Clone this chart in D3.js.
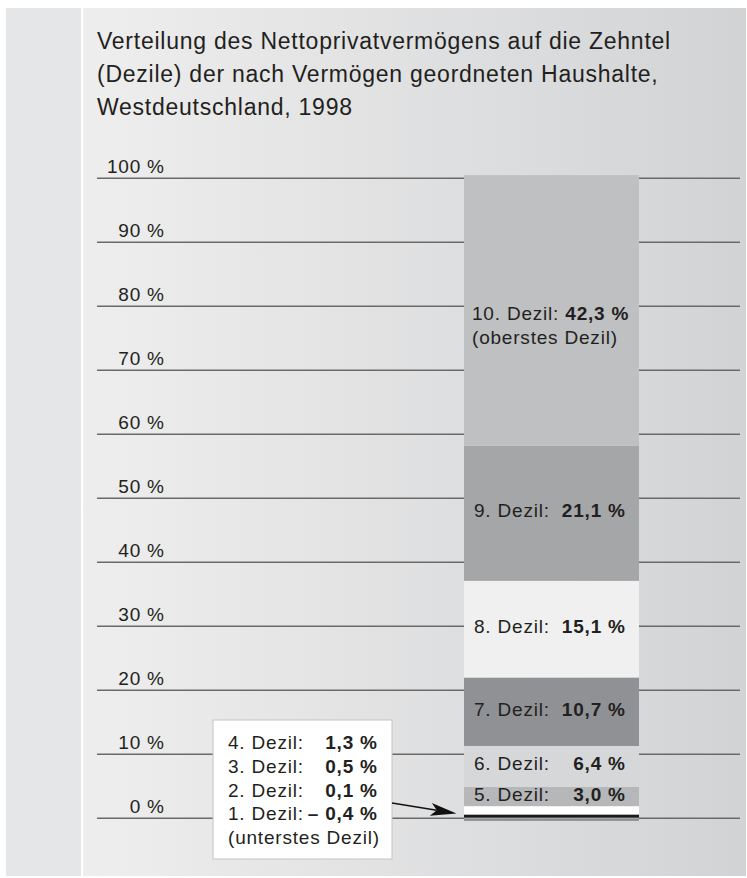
<!DOCTYPE html>
<html>
<head>
<meta charset="utf-8">
<script src="https://cdn.jsdelivr.net/npm/d3@7"></script>
<style>
  html, body { margin: 0; padding: 0; background: #ffffff; }
  svg { display: block; }
</style>
</head>
<body>
<svg id="chart" width="747" height="878"></svg>
<script>
// ---- DATA ----
const deciles = ["1. Dezil", "2. Dezil", "3. Dezil", "4. Dezil", "5. Dezil",
                 "6. Dezil", "7. Dezil", "8. Dezil", "9. Dezil", "10. Dezil"];
const shares = [-0.4, 0.1, 0.5, 1.3, 3.0, 6.4, 10.7, 15.1, 21.1, 42.3];
const valueLabels = ["– 0,4 %", "0,1 %", "0,5 %", "1,3 %", "3,0 %",
                     "6,4 %", "10,7 %", "15,1 %", "21,1 %", "42,3 %"];
const tickValues = [0, 10, 20, 30, 40, 50, 60, 70, 80, 90, 100];
const tickLabels = ["0 %", "10 %", "20 %", "30 %", "40 %", "50 %", "60 %", "70 %", "80 %", "90 %", "100 %"];
const titleLines = ["Verteilung des Nettoprivatvermögens auf die Zehntel",
                    "(Dezile) der nach Vermögen geordneten Haushalte,",
                    "Westdeutschland, 1998"];
const groups = ["Westdeutschland 1998"];

// ---- STYLE ----
const colors = ["#8b8d90", "#ffffff", "#1b1b1b", "#ffffff", "#b6b7b9",
                "#d6d7d9", "#8f9194", "#f0f0f0", "#a5a6a8", "#bfc0c2"];
const font = "'Liberation Sans', Arial, Helvetica, sans-serif";
const textColor = "#231f20";
const fs = 19, ls = 0.8;

const svg = d3.select("#chart");
const defs = svg.append("defs");
const grad = defs.append("linearGradient").attr("id", "bg").attr("x1", 0).attr("x2", 1).attr("y1", 0).attr("y2", 0);
grad.append("stop").attr("offset", "0%").attr("stop-color", "#eeeeee");
grad.append("stop").attr("offset", "100%").attr("stop-color", "#d2d3d5");

// background panels
svg.append("rect").attr("x", 6).attr("y", 8).attr("width", 75).attr("height", 868).attr("fill", "#e5e6e8");
svg.append("rect").attr("x", 83).attr("y", 8).attr("width", 663).attr("height", 868).attr("fill", "url(#bg)");

// scales
const y = d3.scaleLinear().domain([0, 100]).range([818.3, 178.3]);
const x = d3.scaleBand().domain(groups).range([464, 639]).padding(0);

// title
const title = svg.append("text").attr("font-family", font).attr("font-size", 23)
  .attr("letter-spacing", 0.75).attr("fill", textColor);
titleLines.forEach((t, i) => {
  title.append("tspan").attr("x", 97).attr("y", 49 + i * 33).text(t);
});

// grid lines + tick labels
const grid = svg.append("g");
grid.selectAll("line").data(tickValues).join("line")
  .attr("x1", 97).attr("x2", 740)
  .attr("y1", d => y(d)).attr("y2", d => y(d))
  .attr("stroke", "#6a6a6a").attr("stroke-width", 1.5);
grid.selectAll("text").data(tickValues).join("text")
  .attr("x", 164 + ls).attr("y", d => y(d) - 5)
  .attr("text-anchor", "end")
  .attr("font-family", font).attr("font-size", fs).attr("letter-spacing", ls).attr("fill", textColor)
  .text((d, i) => tickLabels[i]);

// stacked bar
const row = { group: groups[0] };
deciles.forEach((k, i) => row[k] = shares[i]);
const series = d3.stack().keys(deciles).offset(d3.stackOffsetDiverging)([row]);

svg.append("g").selectAll("rect").data(series).join("rect")
  .attr("x", x(groups[0]))
  .attr("width", x.bandwidth())
  .attr("y", s => y(Math.max(s[0][0], s[0][1])))
  .attr("height", s => Math.abs(y(s[0][0]) - y(s[0][1])))
  .attr("fill", (s, i) => colors[i]);

// labels inside bar (deciles 5..10)
const labelX = 474, valueX = 625 + ls;
const inBar = series.filter((s, i) => i >= 4);
const lg = svg.append("g").attr("font-family", font).attr("font-size", fs)
  .attr("letter-spacing", ls).attr("fill", textColor);
inBar.forEach(s => {
  const i = s.index;
  const mid = (y(s[0][0]) + y(s[0][1])) / 2;
  if (i === 9) {
    const t = lg.append("text").attr("x", labelX - 2).attr("y", mid + 10);
    t.append("tspan").text(deciles[i] + ": ");
    t.append("tspan").attr("font-weight", "bold").text(valueLabels[i]);
    lg.append("text").attr("x", labelX - 2).attr("y", mid + 34).text("(oberstes Dezil)");
  } else {
    lg.append("text").attr("x", labelX).attr("y", mid + 4).text(deciles[i] + ":");
    lg.append("text").attr("x", valueX).attr("y", mid + 4).attr("text-anchor", "end")
      .attr("font-weight", "bold").text(valueLabels[i]);
  }
});

// callout box for deciles 1..4
const box = { x: 213, y: 720, w: 179, h: 139 };
svg.append("rect").attr("x", box.x).attr("y", box.y).attr("width", box.w).attr("height", box.h)
  .attr("fill", "#ffffff").attr("stroke", "#c4c4c4").attr("stroke-width", 1);
const boxOrder = [3, 2, 1, 0];
const bg = svg.append("g").attr("font-family", font).attr("font-size", fs)
  .attr("letter-spacing", ls).attr("fill", textColor);
boxOrder.forEach((i, j) => {
  const by = 749 + j * 23.8;
  bg.append("text").attr("x", 228).attr("y", by).text(deciles[i] + ":");
  bg.append("text").attr("x", 377 + ls).attr("y", by).attr("text-anchor", "end")
    .attr("font-weight", "bold").text(valueLabels[i]);
});
bg.append("text").attr("x", 228).attr("y", 749 + 4 * 23.8).text("(unterstes Dezil)");

// arrow
const tipX = x(groups[0]) - 7.5;
const tipY = y(series[2][0][1]) - 1;
const startX = box.x + box.w, startY = 803;
const ang = Math.atan2(tipY - startY, tipX - startX);
const headLen = 26, headW = 6.5, notch = 6;
const cs = Math.cos(ang), sn = Math.sin(ang);
const bx = tipX - headLen * cs, byy = tipY - headLen * sn;
svg.append("line").attr("x1", startX).attr("y1", startY)
  .attr("x2", bx + notch * cs).attr("y2", byy + notch * sn)
  .attr("stroke", "#111").attr("stroke-width", 1.3);
svg.append("path")
  .attr("d", `M${tipX},${tipY} L${bx - headW * sn},${byy + headW * cs} L${bx + notch * cs},${byy + notch * sn} L${bx + headW * sn},${byy - headW * cs} Z`)
  .attr("fill", "#111");
</script>
</body>
</html>
